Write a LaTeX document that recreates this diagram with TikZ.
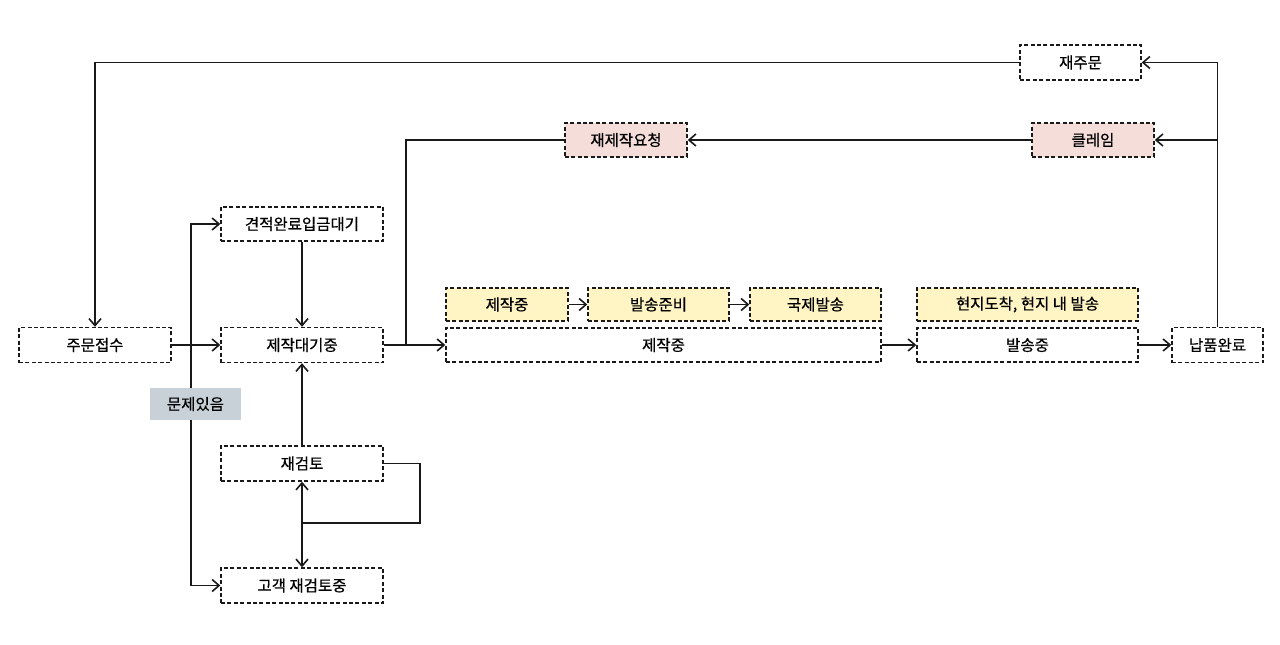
\documentclass[tikz,border=0pt]{standalone}
\usepackage{fontspec}
\setmainfont{Noto Sans CJK KR}[FakeBold=0.6]
\usetikzlibrary{arrows.meta}
\definecolor{yel}{RGB}{255,244,196}
\definecolor{pnk}{RGB}{245,222,218}
\definecolor{gry}{RGB}{200,209,216}
\definecolor{edge}{RGB}{25,25,25}
\tikzset{
  box/.style={draw=edge, dash pattern=on 4pt off 2.4pt, line width=1.4pt, fill=white,
    inner sep=0pt, font=\fontsize{15.5}{18}\selectfont, text=black},
  conn/.style={draw=edge, line width=1.6pt},
  tip/.tip={Straight Barb[length=7pt,width=12pt,line width=1.6pt]},
  arr/.style={conn, -tip},
  darr/.style={conn, tip-tip},
}
\begin{document}
\begin{tikzpicture}[x=1pt,y=-1pt]
\useasboundingbox (0,0) rectangle (1280,645);
% left column
\node[box, minimum width=152pt, minimum height=35pt] (jusu) at (95,345) {주문접수};
\node[box, minimum width=162pt, minimum height=34pt] (gyeon) at (302,224) {견적완료입금대기};
\node[box, minimum width=162pt, minimum height=35pt] (daegi) at (302,345) {제작대기중};
\node[box, minimum width=162pt, minimum height=35pt] (jae) at (302,463.5) {재검토};
\node[box, minimum width=162pt, minimum height=35pt] (gogaek) at (302,585.5) {고객 재검토중};
% top
\node[box, minimum width=121pt, minimum height=35pt] (jaejumun) at (1080.5,62.5) {재주문};
\node[box, fill=pnk, minimum width=122pt, minimum height=34pt] (jaejejak) at (626,140) {재제작요청};
\node[box, fill=pnk, minimum width=122pt, minimum height=34pt] (claim) at (1093,140) {클레임};
% production
\node[box, fill=yel, minimum width=122pt, minimum height=33pt] (y1) at (507,304.5) {제작중};
\node[box, fill=yel, minimum width=141pt, minimum height=33pt] (y2) at (658.5,304.5) {발송준비};
\node[box, fill=yel, minimum width=131pt, minimum height=33pt] (y3) at (815.5,304.5) {국제발송};
\node[box, minimum width=435pt, minimum height=34pt] (jakup) at (663.5,345) {제작중};
\node[box, fill=yel, minimum width=221pt, minimum height=33pt] (y4) at (1027.5,304.5) {현지도착, 현지 내 발송};
\node[box, minimum width=221pt, minimum height=34pt] (balsong) at (1027.5,345) {발송중};
\node[box, minimum width=91pt, minimum height=35pt] (napum) at (1217.5,345) {납품완료};
% helper coordinates
\coordinate (mj) at (191,404);
\coordinate (br1) at (406,345);
\coordinate (br2) at (1217.5,140);
\coordinate (lp) at (420,523);
% connectors
\draw[arr] (mj) |- (gyeon.west);
\draw[arr] (mj) |- (gogaek.west);
\node[fill=gry, minimum width=91pt, minimum height=32pt, inner sep=0pt, font=\fontsize{15.5}{18}\selectfont] (munje) at (195.5,404) {문제있음};
\draw[arr] (jusu.east) -- (daegi.west);
\draw[arr] (gyeon.south) -- (daegi.north);
\draw[arr] (jae.north) -- (daegi.south);
\draw[darr] (jae.south) -- (gogaek.north);
\draw[conn] (jae.east) -| (lp) -- (jae.south |- lp);
\draw[arr] (daegi.east) -- (jakup.west);
\draw[conn] (jaejejak.west) -| (br1);
\draw[arr] (claim.west) -- (jaejejak.east);
\draw[arr] (napum.north) |- (jaejumun.east);
\draw[arr] (br2) -- (claim.east);
\draw[arr] (jaejumun.west) -| (jusu.north);
\draw[arr] (y1.east) -- (y2.west);
\draw[arr] (y2.east) -- (y3.west);
\draw[arr] (jakup.east) -- (balsong.west);
\draw[arr] (balsong.east) -- (napum.west);
\end{tikzpicture}
\end{document}
